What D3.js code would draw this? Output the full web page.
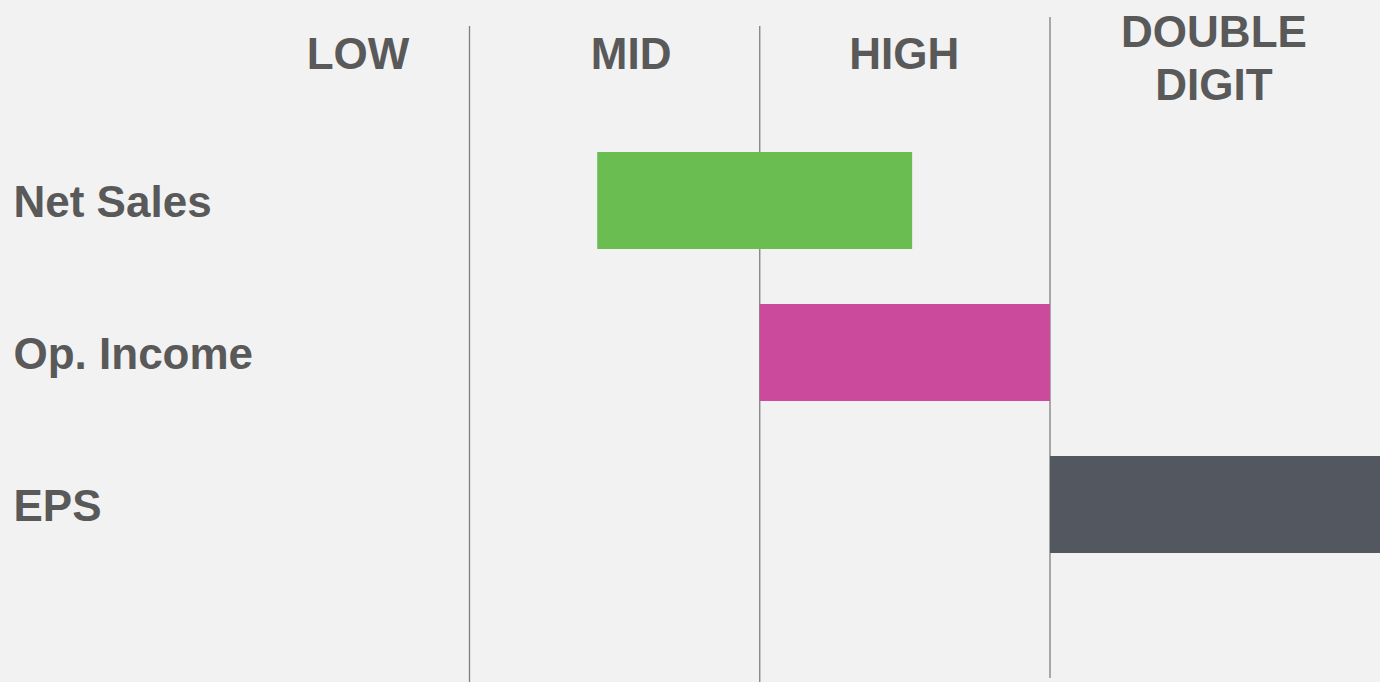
<!DOCTYPE html>
<html>
<head>
<meta charset="utf-8">
<script src="https://cdn.jsdelivr.net/npm/d3@7"></script>
<style>
  html, body { margin: 0; padding: 0; background: #f2f2f2; }
  svg { display: block; }
  text { font-family: "Liberation Sans", Arial, sans-serif; font-weight: bold; fill: #595959; }
</style>
</head>
<body>
<svg id="chart" width="1380" height="682"></svg>
<script>
// Data
const categories = ["Net Sales", "Op. Income", "EPS"];
const barStart = [1.44, 2.0, 3.0];
const barEnd = [2.525, 3.0, 4.14];
const barColors = ["#6abd51", "#cc4a9c", "#53575f"];
const headerLabels = [["LOW"], ["MID"], ["HIGH"], ["DOUBLE", "DIGIT"]];
const headerPos = [0.616, 1.557, 2.498, 3.565];
const dividers = [1, 2, 3];

const W = 1380, H = 682;
const svg = d3.select("#chart");
svg.append("rect").attr("width", W).attr("height", H).attr("fill", "#f2f2f2");

const x = d3.scaleLinear().domain([1, 3]).range([469.5, 1050]);
const y = d3.scaleBand().domain(categories).range([124.5, 580.5])
  .paddingInner(0.362).paddingOuter(0.181);

// divider lines
const lineTop = [26, 26, 17];
const lineBottom = [682, 682, 678];
svg.append("g").selectAll("line").data(dividers).join("line")
  .attr("x1", d => x(d)).attr("x2", d => x(d))
  .attr("y1", (d, i) => lineTop[i]).attr("y2", (d, i) => lineBottom[i])
  .attr("stroke", "#7f7f7f").attr("stroke-width", 1.3);

// bars
svg.append("g").selectAll("rect").data(categories).join("rect")
  .attr("x", (d, i) => x(barStart[i]))
  .attr("width", (d, i) => x(barEnd[i]) - x(barStart[i]))
  .attr("y", d => y(d))
  .attr("height", y.bandwidth())
  .attr("fill", (d, i) => barColors[i]);

// row labels
svg.append("g").selectAll("text").data(categories).join("text")
  .attr("x", 13.5)
  .attr("y", d => y(d) + y.bandwidth() / 2 + 16.5)
  .attr("font-size", 44)
  .text(d => d);

// headers
const hg = svg.append("g");
headerLabels.forEach((lines, i) => {
  const t = hg.append("text")
    .attr("x", x(headerPos[i]))
    .attr("text-anchor", "middle")
    .attr("font-size", 44);
  const startY = lines.length === 1 ? 68.5 : 46.7;
  lines.forEach((ln, j) => {
    t.append("tspan").attr("x", x(headerPos[i])).attr("y", startY + j * 53.3).text(ln);
  });
});
</script>
</body>
</html>
